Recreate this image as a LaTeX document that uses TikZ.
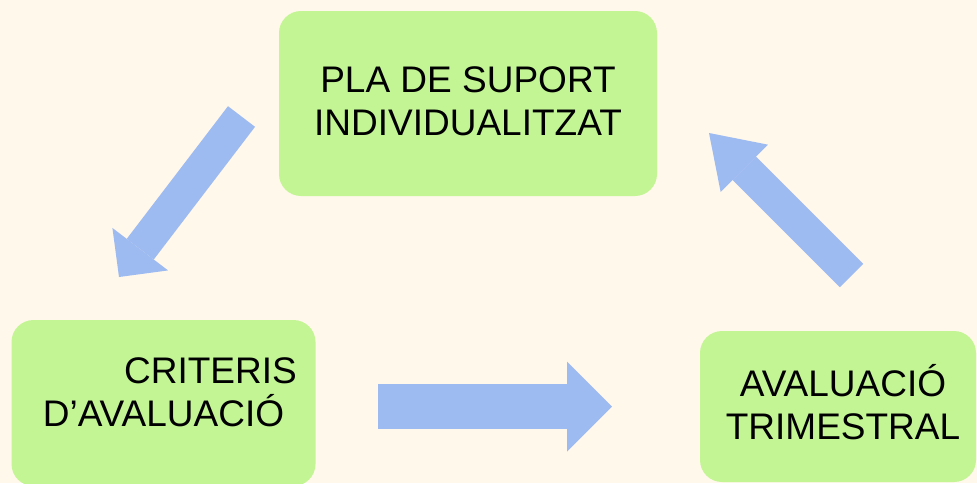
\documentclass[tikz,border=0pt]{standalone}
\usepackage{fontspec}
\setmainfont{Liberation Sans}
\usetikzlibrary{arrows.meta}
\definecolor{paper}{HTML}{FFF8EB}
\definecolor{leaf}{HTML}{C3F595}
\definecolor{sky}{HTML}{9DBAF1}
\tikzset{
  stage/.style={fill=leaf, rounded corners=22pt, inner sep=0pt, align=center,
    font=\fontsize{37}{43}\selectfont},
  flow/.style={draw=sky, line cap=butt}
}
\begin{document}
\begin{tikzpicture}[x=1pt,y=-1pt]
\fill[paper] (0,0) rectangle (977,483);
\useasboundingbox (0,0) rectangle (977,483);
\node[stage, minimum width=378pt, minimum height=185pt, text depth=5pt] (pla) at (468,103.5) {PLA DE SUPORT\\INDIVIDUALITZAT};
\node[stage, minimum width=304pt, minimum height=166pt, text depth=22pt] (crit) at (163.5,403) {\hspace*{94pt}CRITERIS\\D’AVALUACIÓ};
\node[stage, minimum width=276pt, minimum height=151pt, text depth=10pt] (aval) at (838,406.5) {\hspace*{10pt}AVALUACIÓ\\\hspace*{10pt}TRIMESTRAL};
\coordinate (plaout) at (241.5,116.5);
\coordinate (critin) at (119,277);
\coordinate (critout) at (378,406.5);
\coordinate (avalin) at (612,406.5);
\coordinate (avalout) at (851.5,275.5);
\coordinate (plain) at (709,133);
\draw[flow, line width=34pt, -{Triangle[width=70pt 0 0, length=35pt 0 0, line width=0pt 0 0]}] (plaout) -- (critin);
\draw[flow, line width=45pt, -{Triangle[width=90pt 0 0, length=45pt 0 0, line width=0pt 0 0]}] (critout) -- (avalin);
\draw[flow, line width=33pt, -{Triangle[width=67pt 0 0, length=50pt 0 0, line width=0pt 0 0]}] (avalout) -- (plain);
\end{tikzpicture}
\end{document}
